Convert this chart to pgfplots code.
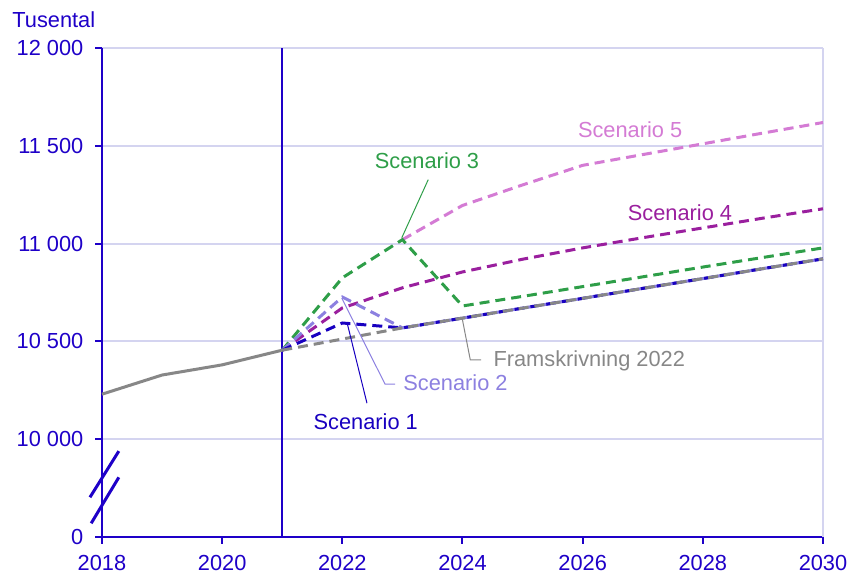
\documentclass[border=0pt]{standalone}
\usepackage{pgfplots}
\pgfplotsset{compat=1.18}
\usepackage{fontspec}
\setmainfont{Liberation Sans}
\definecolor{axblue}{HTML}{1E00C8}
\definecolor{gridc}{HTML}{D4D4F0}
\definecolor{grayc}{HTML}{878787}
\definecolor{sone}{HTML}{1800C0}
\definecolor{stwo}{HTML}{8C80E0}
\definecolor{sthree}{HTML}{2E9E48}
\definecolor{sfour}{HTML}{9A1F9E}
\definecolor{sfive}{HTML}{D47BD4}
\begin{document}
\fontsize{10.9}{12}\selectfont
\begin{tikzpicture}
\useasboundingbox (-51pt,-22pt) rectangle (378.5pt,268.5pt);
\begin{axis}[
  at={(0,0)}, anchor=south west,
  scale only axis, width=360.5pt, height=244.5pt,
  xmin=2018, xmax=2030, ymin=9500, ymax=12000,
  axis x line*=bottom, axis y line*=left,
  axis line style={axblue, line width=1pt, -},
  xtick={2018,2020,...,2030},
  ytick={9500,10000,10500,11000,11500,12000},
  yticklabels={0,10 000,10 500,11 000,11 500,12 000},
  scaled y ticks=false, scaled x ticks=false,
  /pgf/number format/assume math mode=true,
  /pgf/number format/set thousands separator={},
  tick align=outside, major tick length=3.5pt,
  tick style={axblue, line width=1pt},
  ticklabel style={text=axblue, font=\fontsize{10.9}{12}\selectfont},
  yticklabel style={xshift=-2pt},
  xticklabel style={yshift=-2pt},
  ymajorgrids, major grid style={gridc, line width=1pt},
  clip=false,
]
% right border and vertical 2021 line
\draw[gridc, line width=1pt] (axis cs:2030,9500) -- (axis cs:2030,12000);
\draw[axblue, line width=0.9pt] (axis cs:2021,9500) -- (axis cs:2021,12000);

\pgfplotsset{dsh/.style={line width=1.5pt, dash pattern=on 5pt off 3pt}}
\addplot[sfive, dsh, no markers] coordinates {(2023,11020) (2024,11195) (2025,11300) (2026,11400) (2027,11455) (2028,11510) (2029,11565) (2030,11619)};
\addplot[sfour, dsh, no markers] coordinates {(2021,10455) (2022,10671) (2023,10774) (2024,10855) (2025,10920) (2026,10978) (2027,11030) (2028,11080) (2029,11130) (2030,11178)};
\addplot[sthree, dsh, no markers] coordinates {(2021,10455) (2022,10825) (2023,11020) (2024,10681) (2025,10730) (2026,10780) (2027,10830) (2028,10880) (2029,10929) (2030,10978)};
\addplot[stwo, dsh, no markers] coordinates {(2021,10455) (2022,10727) (2023,10569) (2024,10619) (2025,10670) (2026,10720) (2027,10771) (2028,10821) (2029,10872) (2030,10922)};
\addplot[sone, dsh, no markers] coordinates {(2021,10455) (2022,10594) (2023,10569) (2024,10619) (2025,10670) (2026,10720) (2027,10771) (2028,10821) (2029,10872) (2030,10922)};
\addplot[grayc, dsh, no markers] coordinates {(2021,10455) (2022,10512) (2023,10569) (2024,10619) (2025,10670) (2026,10720) (2027,10771) (2028,10821) (2029,10872) (2030,10922)};
\addplot[grayc, line width=1.5pt, no markers] coordinates {(2018,10230) (2019,10328) (2020,10380) (2021,10455)};

% labels and leaders
\node[text=sfive] at (axis cs:2026.79,11583) {Scenario 5};
\node[text=sfour] at (axis cs:2027.62,11158) {Scenario 4};
\node[text=sthree] at (axis cs:2023.41,11424) {Scenario 3};
\draw[sthree, line width=0.5pt] (axis cs:2023.43,11327) -- (axis cs:2022.99,11030);
\node[text=grayc, anchor=west, inner sep=0pt] at (axis cs:2024.51,10400) {Framskrivning 2022};
\draw[grayc, line width=0.5pt] (axis cs:2023.99,10625) -- (axis cs:2024.13,10405) -- (axis cs:2024.31,10405);
\node[text=stwo, anchor=west, inner sep=0pt] at (axis cs:2023.01,10287) {Scenario 2};
\draw[stwo, line width=0.5pt] (axis cs:2021.99,10722) -- (axis cs:2022.71,10282) -- (axis cs:2022.88,10282);
\node[text=sone] at (axis cs:2022.39,10087) {Scenario 1};
\draw[sone, line width=0.5pt] (axis cs:2022.08,10594) -- (axis cs:2022.41,10184);

% axis break marks
\draw[axblue, line width=1.5pt] (axis cs:2017.8,9703) -- (axis cs:2018.28,9939);
\draw[axblue, line width=1.5pt] (axis cs:2017.82,9570) -- (axis cs:2018.28,9805);
\end{axis}
\node[text=axblue, anchor=west, inner sep=0pt] at (-45pt,258.5pt) {Tusental};
\end{tikzpicture}
\end{document}
